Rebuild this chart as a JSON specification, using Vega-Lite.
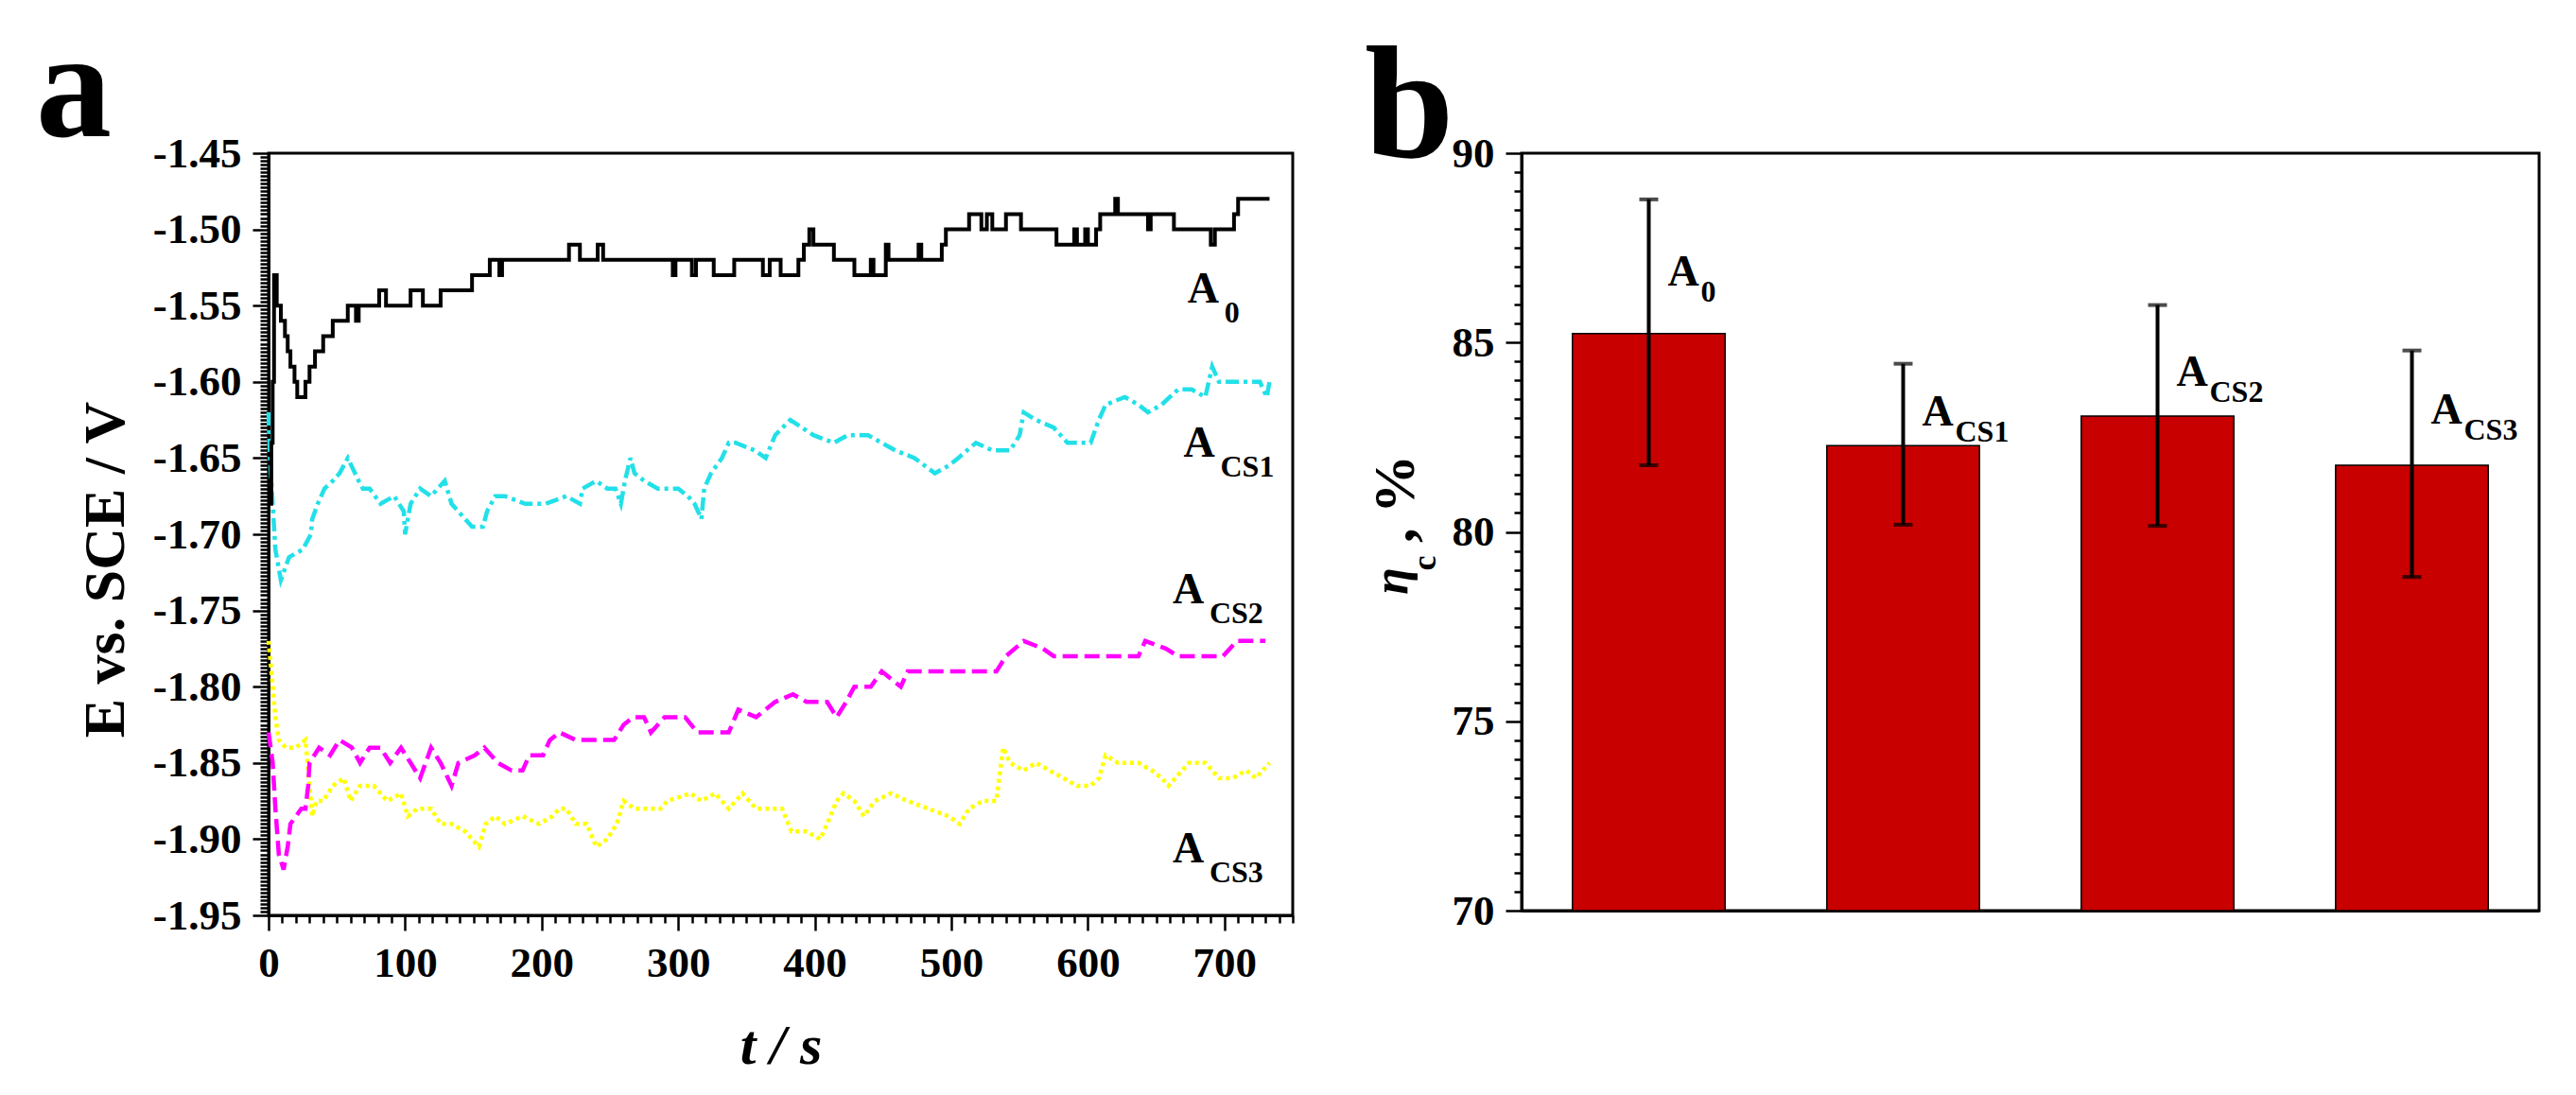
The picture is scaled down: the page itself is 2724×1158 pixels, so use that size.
{
  "$schema": "https://vega.github.io/schema/vega-lite/v6.json",
  "background": "white",
  "padding": {"left": 36, "top": 14, "right": 0, "bottom": 0},
  "bounds": "flush",
  "spacing": 242,
  "config": {
    "font": "Liberation Serif",
    "view": {"stroke": "black", "strokeWidth": 3},
    "axis": {"domainColor": "black", "domainWidth": 3, "tickColor": "black", "tickWidth": 2.5, "labelFont": "Liberation Serif", "labelFontWeight": "bold", "labelFontSize": 45, "labelColor": "black", "labelPadding": 12, "titleFont": "Liberation Serif", "titleFontWeight": "bold", "titleColor": "black", "grid": false, "labelOverlap": false, "labelFlush": false, "labelBound": false},
    "title": {"font": "Liberation Serif", "fontWeight": "bold", "fontSize": 170, "color": "black", "anchor": "start", "frame": "group", "baseline": "alphabetic"}
  },
  "datasets": {
    "a0": [
      {"t":0,"v":-1.68},{"t":2,"v":-1.64},{"t":3,"v":-1.6},{"t":4,"v":-1.53},{"t":6,"v":-1.55},{"t":9,"v":-1.56},{"t":12,"v":-1.57},{"t":14,"v":-1.58},{"t":16,"v":-1.59},{"t":19,"v":-1.6},{"t":21,"v":-1.61},{"t":27,"v":-1.6},{"t":30,"v":-1.59},{"t":34,"v":-1.58},{"t":40,"v":-1.57},{"t":47,"v":-1.56},{"t":58,"v":-1.55},{"t":64,"v":-1.56},{"t":66,"v":-1.55},{"t":81,"v":-1.54},{"t":86,"v":-1.55},{"t":104,"v":-1.54},{"t":113,"v":-1.55},{"t":126,"v":-1.54},{"t":149,"v":-1.53},{"t":162,"v":-1.52},{"t":169,"v":-1.53},{"t":171,"v":-1.52},{"t":220,"v":-1.51},{"t":228,"v":-1.52},{"t":241,"v":-1.51},{"t":245,"v":-1.52},{"t":296,"v":-1.53},{"t":298,"v":-1.52},{"t":310,"v":-1.53},{"t":313,"v":-1.52},{"t":326,"v":-1.53},{"t":341,"v":-1.52},{"t":362,"v":-1.53},{"t":367,"v":-1.52},{"t":375,"v":-1.53},{"t":388,"v":-1.52},{"t":392,"v":-1.51},{"t":396,"v":-1.5},{"t":399,"v":-1.51},{"t":414,"v":-1.52},{"t":429,"v":-1.53},{"t":441,"v":-1.52},{"t":443,"v":-1.53},{"t":452,"v":-1.51},{"t":454,"v":-1.52},{"t":476,"v":-1.51},{"t":478,"v":-1.52},{"t":493,"v":-1.51},{"t":496,"v":-1.5},{"t":513,"v":-1.49},{"t":522,"v":-1.5},{"t":526,"v":-1.49},{"t":530,"v":-1.5},{"t":540,"v":-1.49},{"t":551,"v":-1.5},{"t":577,"v":-1.51},{"t":590,"v":-1.5},{"t":592,"v":-1.51},{"t":598,"v":-1.5},{"t":600,"v":-1.51},{"t":606,"v":-1.5},{"t":609,"v":-1.49},{"t":620,"v":-1.48},{"t":622,"v":-1.49},{"t":644,"v":-1.5},{"t":646,"v":-1.49},{"t":663,"v":-1.5},{"t":690,"v":-1.51},{"t":693,"v":-1.5},{"t":707,"v":-1.49},{"t":710,"v":-1.48},{"t":733,"v":-1.48}
    ],
    "cs1": [
      {"t":0,"v":-1.62},{"t":1,"v":-1.65},{"t":3,"v":-1.68},{"t":5,"v":-1.71},{"t":9,"v":-1.73},{"t":15,"v":-1.715},{"t":25,"v":-1.71},{"t":31,"v":-1.7},{"t":32,"v":-1.69},{"t":36,"v":-1.68},{"t":41,"v":-1.67},{"t":47,"v":-1.665},{"t":52,"v":-1.66},{"t":58,"v":-1.65},{"t":66,"v":-1.665},{"t":69,"v":-1.67},{"t":74,"v":-1.67},{"t":82,"v":-1.68},{"t":92,"v":-1.675},{"t":99,"v":-1.685},{"t":100,"v":-1.7},{"t":104,"v":-1.68},{"t":111,"v":-1.67},{"t":119,"v":-1.675},{"t":129,"v":-1.665},{"t":134,"v":-1.68},{"t":144,"v":-1.69},{"t":149,"v":-1.695},{"t":157,"v":-1.695},{"t":160,"v":-1.685},{"t":166,"v":-1.675},{"t":173,"v":-1.675},{"t":188,"v":-1.68},{"t":203,"v":-1.68},{"t":218,"v":-1.675},{"t":228,"v":-1.68},{"t":230,"v":-1.67},{"t":240,"v":-1.665},{"t":248,"v":-1.67},{"t":254,"v":-1.67},{"t":258,"v":-1.68},{"t":261,"v":-1.665},{"t":265,"v":-1.65},{"t":268,"v":-1.66},{"t":275,"v":-1.665},{"t":285,"v":-1.67},{"t":300,"v":-1.67},{"t":307,"v":-1.675},{"t":312,"v":-1.68},{"t":317,"v":-1.69},{"t":319,"v":-1.67},{"t":324,"v":-1.66},{"t":332,"v":-1.65},{"t":337,"v":-1.64},{"t":342,"v":-1.64},{"t":356,"v":-1.645},{"t":364,"v":-1.65},{"t":371,"v":-1.635},{"t":382,"v":-1.625},{"t":399,"v":-1.635},{"t":414,"v":-1.64},{"t":424,"v":-1.635},{"t":439,"v":-1.635},{"t":449,"v":-1.64},{"t":459,"v":-1.645},{"t":473,"v":-1.65},{"t":488,"v":-1.66},{"t":498,"v":-1.655},{"t":505,"v":-1.65},{"t":518,"v":-1.64},{"t":530,"v":-1.645},{"t":543,"v":-1.645},{"t":550,"v":-1.635},{"t":553,"v":-1.62},{"t":562,"v":-1.625},{"t":575,"v":-1.63},{"t":585,"v":-1.64},{"t":602,"v":-1.64},{"t":608,"v":-1.625},{"t":613,"v":-1.615},{"t":627,"v":-1.61},{"t":637,"v":-1.615},{"t":644,"v":-1.62},{"t":654,"v":-1.615},{"t":666,"v":-1.605},{"t":676,"v":-1.605},{"t":686,"v":-1.61},{"t":691,"v":-1.59},{"t":696,"v":-1.6},{"t":713,"v":-1.6},{"t":726,"v":-1.6},{"t":731,"v":-1.61},{"t":733,"v":-1.6}
    ],
    "cs2": [
      {"t":0,"v":-1.83},{"t":3,"v":-1.85},{"t":5,"v":-1.88},{"t":7.5,"v":-1.91},{"t":11,"v":-1.92},{"t":14,"v":-1.905},{"t":16,"v":-1.89},{"t":24,"v":-1.88},{"t":27,"v":-1.88},{"t":29,"v":-1.865},{"t":30,"v":-1.85},{"t":37,"v":-1.84},{"t":45,"v":-1.845},{"t":52,"v":-1.835},{"t":61,"v":-1.84},{"t":67,"v":-1.85},{"t":74,"v":-1.84},{"t":82,"v":-1.84},{"t":89,"v":-1.85},{"t":97,"v":-1.84},{"t":104,"v":-1.85},{"t":111,"v":-1.86},{"t":119,"v":-1.84},{"t":126,"v":-1.85},{"t":134,"v":-1.865},{"t":139,"v":-1.85},{"t":151,"v":-1.845},{"t":158,"v":-1.84},{"t":168,"v":-1.85},{"t":178,"v":-1.855},{"t":186,"v":-1.855},{"t":191,"v":-1.845},{"t":201,"v":-1.845},{"t":206,"v":-1.835},{"t":213,"v":-1.83},{"t":225,"v":-1.835},{"t":235,"v":-1.835},{"t":243,"v":-1.835},{"t":253,"v":-1.835},{"t":260,"v":-1.825},{"t":267,"v":-1.82},{"t":275,"v":-1.82},{"t":280,"v":-1.83},{"t":290,"v":-1.82},{"t":305,"v":-1.82},{"t":314,"v":-1.83},{"t":337,"v":-1.83},{"t":344,"v":-1.815},{"t":357,"v":-1.82},{"t":364,"v":-1.815},{"t":371,"v":-1.81},{"t":384,"v":-1.805},{"t":394,"v":-1.81},{"t":409,"v":-1.81},{"t":416,"v":-1.82},{"t":423,"v":-1.81},{"t":429,"v":-1.8},{"t":441,"v":-1.8},{"t":449,"v":-1.79},{"t":463,"v":-1.8},{"t":468,"v":-1.79},{"t":533,"v":-1.79},{"t":540,"v":-1.78},{"t":553,"v":-1.77},{"t":567,"v":-1.775},{"t":575,"v":-1.78},{"t":637,"v":-1.78},{"t":642,"v":-1.77},{"t":657,"v":-1.775},{"t":666,"v":-1.78},{"t":699,"v":-1.78},{"t":709,"v":-1.77},{"t":730,"v":-1.77}
    ],
    "cs3": [
      {"t":0,"v":-1.77},{"t":2.6,"v":-1.795},{"t":5,"v":-1.82},{"t":7.5,"v":-1.835},{"t":12.5,"v":-1.84},{"t":20,"v":-1.84},{"t":27,"v":-1.835},{"t":30,"v":-1.865},{"t":32,"v":-1.885},{"t":35,"v":-1.875},{"t":40,"v":-1.875},{"t":47,"v":-1.865},{"t":55,"v":-1.86},{"t":60,"v":-1.875},{"t":67,"v":-1.865},{"t":77,"v":-1.865},{"t":87,"v":-1.875},{"t":97,"v":-1.87},{"t":102,"v":-1.885},{"t":109,"v":-1.88},{"t":119,"v":-1.88},{"t":126,"v":-1.89},{"t":134,"v":-1.89},{"t":144,"v":-1.895},{"t":154,"v":-1.905},{"t":159,"v":-1.89},{"t":166,"v":-1.885},{"t":173,"v":-1.89},{"t":186,"v":-1.885},{"t":198,"v":-1.89},{"t":208,"v":-1.885},{"t":213,"v":-1.88},{"t":218,"v":-1.88},{"t":225,"v":-1.89},{"t":233,"v":-1.89},{"t":240,"v":-1.905},{"t":248,"v":-1.9},{"t":255,"v":-1.89},{"t":260,"v":-1.875},{"t":268,"v":-1.88},{"t":277,"v":-1.88},{"t":287,"v":-1.88},{"t":292,"v":-1.875},{"t":309,"v":-1.87},{"t":317,"v":-1.875},{"t":327,"v":-1.87},{"t":337,"v":-1.88},{"t":347,"v":-1.87},{"t":357,"v":-1.88},{"t":366,"v":-1.88},{"t":376,"v":-1.88},{"t":383,"v":-1.895},{"t":394,"v":-1.895},{"t":404,"v":-1.9},{"t":409,"v":-1.89},{"t":416,"v":-1.875},{"t":421,"v":-1.87},{"t":429,"v":-1.875},{"t":436,"v":-1.885},{"t":444,"v":-1.875},{"t":456,"v":-1.87},{"t":468,"v":-1.875},{"t":483,"v":-1.88},{"t":498,"v":-1.885},{"t":506,"v":-1.89},{"t":513,"v":-1.88},{"t":523,"v":-1.875},{"t":533,"v":-1.875},{"t":535,"v":-1.86},{"t":538,"v":-1.84},{"t":543,"v":-1.85},{"t":553,"v":-1.855},{"t":562,"v":-1.85},{"t":572,"v":-1.855},{"t":582,"v":-1.86},{"t":592,"v":-1.865},{"t":602,"v":-1.865},{"t":608,"v":-1.86},{"t":613,"v":-1.845},{"t":622,"v":-1.85},{"t":637,"v":-1.85},{"t":647,"v":-1.855},{"t":654,"v":-1.86},{"t":659,"v":-1.865},{"t":664,"v":-1.86},{"t":674,"v":-1.85},{"t":686,"v":-1.85},{"t":696,"v":-1.86},{"t":706,"v":-1.86},{"t":716,"v":-1.855},{"t":723,"v":-1.86},{"t":733,"v":-1.85}
    ],
    "la": [
      {"t":673,"v":-1.548,"sub":"0"},{"t":670,"v":-1.649,"sub":"CS1"},{"t":662,"v":-1.745,"sub":"CS2"},{"t":662,"v":-1.915,"sub":"CS3"}
    ],
    "bars": [
      {"k":"A0","m":85.24,"lo":81.76,"hi":88.78,"ly":86.5,"sub":"0"},
      {"k":"ACS1","m":82.28,"lo":80.19,"hi":84.44,"ly":82.8,"sub":"CS1"},
      {"k":"ACS2","m":83.06,"lo":80.16,"hi":85.99,"ly":83.85,"sub":"CS2"},
      {"k":"ACS3","m":81.76,"lo":78.81,"hi":84.79,"ly":82.85,"sub":"CS3"}
    ]
  },
  "hconcat": [
    {
      "width": 1083,
      "height": 806,
      "title": {"text": "a", "dx": -246, "dy": 42, "fontSize": 160},
      "encoding": {
        "x": {"field": "t", "type": "quantitative",
          "scale": {"domain": [0, 750], "nice": false, "zero": false},
          "axis": {"title": "t / s", "titleFontSize": 60, "titleFontStyle": "italic", "titlePadding": 36,
            "values": [0,10,20,30,40,50,60,70,80,90,100,110,120,130,140,150,160,170,180,190,200,210,220,230,240,250,260,270,280,290,300,310,320,330,340,350,360,370,380,390,400,410,420,430,440,450,460,470,480,490,500,510,520,530,540,550,560,570,580,590,600,610,620,630,640,650,660,670,680,690,700,710,720,730,740,750],
            "tickSize": {"condition": {"test": "datum.value % 100 === 0", "value": 16}, "value": 8},
            "labelExpr": "datum.value % 100 === 0 ? datum.label : ''"}},
        "y": {"field": "v", "type": "quantitative",
          "scale": {"domain": [-1.95, -1.45], "nice": false, "zero": false},
          "axis": {"title": "E vs. SCE / V", "titleFontSize": 62, "titlePadding": 18, "titleY": 440,
            "values": [-1.95,-1.9475,-1.945,-1.9425,-1.94,-1.9375,-1.935,-1.9325,-1.93,-1.9275,-1.925,-1.9225,-1.92,-1.9175,-1.915,-1.9125,-1.91,-1.9075,-1.905,-1.9025,-1.9,-1.8975,-1.895,-1.8925,-1.89,-1.8875,-1.885,-1.8825,-1.88,-1.8775,-1.875,-1.8725,-1.87,-1.8675,-1.865,-1.8625,-1.86,-1.8575,-1.855,-1.8525,-1.85,-1.8475,-1.845,-1.8425,-1.84,-1.8375,-1.835,-1.8325,-1.83,-1.8275,-1.825,-1.8225,-1.82,-1.8175,-1.815,-1.8125,-1.81,-1.8075,-1.805,-1.8025,-1.8,-1.7975,-1.795,-1.7925,-1.79,-1.7875,-1.785,-1.7825,-1.78,-1.7775,-1.775,-1.7725,-1.77,-1.7675,-1.765,-1.7625,-1.76,-1.7575,-1.755,-1.7525,-1.75,-1.7475,-1.745,-1.7425,-1.74,-1.7375,-1.735,-1.7325,-1.73,-1.7275,-1.725,-1.7225,-1.72,-1.7175,-1.715,-1.7125,-1.71,-1.7075,-1.705,-1.7025,-1.7,-1.6975,-1.695,-1.6925,-1.69,-1.6875,-1.685,-1.6825,-1.68,-1.6775,-1.675,-1.6725,-1.67,-1.6675,-1.665,-1.6625,-1.66,-1.6575,-1.655,-1.6525,-1.65,-1.6475,-1.645,-1.6425,-1.64,-1.6375,-1.635,-1.6325,-1.63,-1.6275,-1.625,-1.6225,-1.62,-1.6175,-1.615,-1.6125,-1.61,-1.6075,-1.605,-1.6025,-1.6,-1.5975,-1.595,-1.5925,-1.59,-1.5875,-1.585,-1.5825,-1.58,-1.5775,-1.575,-1.5725,-1.57,-1.5675,-1.565,-1.5625,-1.56,-1.5575,-1.555,-1.5525,-1.55,-1.5475,-1.545,-1.5425,-1.54,-1.5375,-1.535,-1.5325,-1.53,-1.5275,-1.525,-1.5225,-1.52,-1.5175,-1.515,-1.5125,-1.51,-1.5075,-1.505,-1.5025,-1.5,-1.4975,-1.495,-1.4925,-1.49,-1.4875,-1.485,-1.4825,-1.48,-1.4775,-1.475,-1.4725,-1.47,-1.4675,-1.465,-1.4625,-1.46,-1.4575,-1.455,-1.4525,-1.45],
            "tickSize": {"condition": {"test": "abs(datum.value * 20 - round(datum.value * 20)) < 0.001", "value": 17}, "value": 9},
            "labelExpr": "abs(datum.value * 20 - round(datum.value * 20)) < 0.001 ? '-' + format(abs(datum.value), '.2f') : ''"}}
      },
      "layer": [
        {"data": {"name": "cs3"}, "mark": {"type": "line", "color": "#FFFF00", "strokeWidth": 4.5, "strokeDash": [4, 4]}},
        {"data": {"name": "cs2"}, "mark": {"type": "line", "color": "#FF00FF", "strokeWidth": 4.5, "strokeDash": [16, 7]}},
        {"data": {"name": "cs1"}, "mark": {"type": "line", "color": "#22E0E8", "strokeWidth": 4.5, "strokeDash": [14, 5, 4, 5]}},
        {"data": {"name": "a0"}, "mark": {"type": "line", "color": "black", "strokeWidth": 4, "interpolate": "step-after"}},
        {"data": {"name": "la"}, "mark": {"type": "text", "align": "left", "baseline": "alphabetic", "fontSize": 46, "fontWeight": "bold", "color": "black"}, "encoding": {"text": {"value": "A"}}},
        {"data": {"name": "la"}, "mark": {"type": "text", "align": "left", "baseline": "alphabetic", "fontSize": 32, "fontWeight": "bold", "color": "black", "dx": 39, "dy": 21}, "encoding": {"text": {"field": "sub"}}}
      ]
    },
    {
      "width": 1076,
      "height": 801,
      "title": {"text": "b", "dx": -166, "dy": 66},
      "data": {"name": "bars"},
      "resolve": {"axis": {"y": "independent"}},
      "encoding": {
        "x": {"field": "k", "type": "nominal", "sort": null,
          "scale": {"paddingInner": 0.4, "paddingOuter": 0.2},
          "axis": {"title": null, "labels": false, "ticks": false}}
      },
      "layer": [
        {"mark": {"type": "bar", "fill": "#C80000", "stroke": "black", "strokeWidth": 1.5},
         "encoding": {
           "y": {"field": "m", "type": "quantitative",
             "scale": {"domain": [70, 90], "nice": false, "zero": false},
             "axis": {"orient": "left", "title": ", %", "titleFontSize": 62, "titleX": -115, "titleY": 365, "titleAngle": -90, "titleAlign": "center", "titleBaseline": "alphabetic",
               "values": [70,70.5,71,71.5,72,72.5,73,73.5,74,74.5,75,75.5,76,76.5,77,77.5,78,78.5,79,79.5,80,80.5,81,81.5,82,82.5,83,83.5,84,84.5,85,85.5,86,86.5,87,87.5,88,88.5,89,89.5,90],
               "tickSize": {"condition": {"test": "datum.value % 5 === 0", "value": 17}, "value": 8},
               "labelExpr": "datum.value % 5 === 0 ? format(datum.value, 'd') : ''"}},
           "y2": {"datum": 70}}},
        {"mark": {"type": "rule", "strokeWidth": 4, "color": "black"},
         "encoding": {"y": {"field": "lo", "type": "quantitative",
             "axis": {"orient": "left", "title": "η", "titleFontSize": 52, "titleFontStyle": "italic", "titleX": -122, "titleY": 452, "titleAngle": -90, "titleAlign": "center", "titleBaseline": "alphabetic", "labels": false, "ticks": false, "domain": false}},
           "y2": {"field": "hi"}}},
        {"mark": {"type": "tick", "thickness": 4, "size": 20, "color": "black"},
         "encoding": {"y": {"field": "lo", "type": "quantitative",
             "axis": {"orient": "left", "title": "c", "titleFontSize": 36, "titleX": -92, "titleY": 433, "titleAngle": -90, "titleAlign": "center", "titleBaseline": "alphabetic", "labels": false, "ticks": false, "domain": false}}}},
        {"mark": {"type": "tick", "thickness": 4, "size": 20, "color": "black"},
         "encoding": {"y": {"field": "hi", "type": "quantitative", "axis": null}}},
        {"mark": {"type": "text", "align": "left", "baseline": "alphabetic", "fontSize": 46, "fontWeight": "bold", "color": "black", "dx": 20},
         "encoding": {"y": {"field": "ly", "type": "quantitative", "axis": null}, "text": {"value": "A"}}},
        {"mark": {"type": "text", "align": "left", "baseline": "alphabetic", "fontSize": 32, "fontWeight": "bold", "color": "black", "dx": 55, "dy": 17},
         "encoding": {"y": {"field": "ly", "type": "quantitative", "axis": null}, "text": {"field": "sub"}}}
      ]
    }
  ]
}
